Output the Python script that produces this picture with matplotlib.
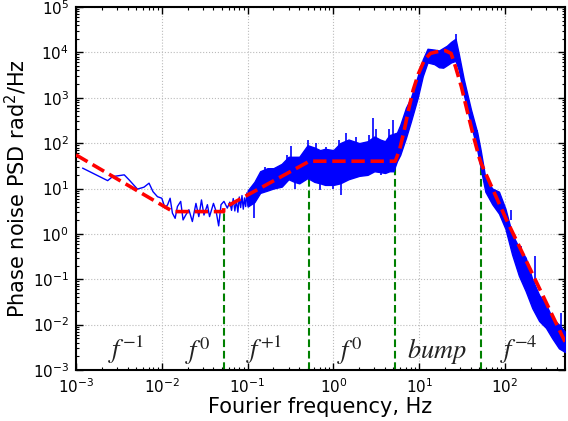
import numpy as np
import matplotlib
matplotlib.use("Agg")
import matplotlib.pyplot as plt
from matplotlib.ticker import LogLocator, NullFormatter

plt.rcParams['font.family'] = ['DejaVu Sans']
plt.rcParams['axes.unicode_minus'] = False

# --- low-frequency part of the measured PSD (thin line) ---
f_low = [1.2e-3, 2.34e-3, 2.67e-3, 3.0e-3, 3.65e-3, 4.17e-3, 5.2e-3, 6.2e-3, 7.1e-3,
         7.9e-3, 8.9e-3, 1.0e-2, 1.09e-2, 1.17e-2, 1.25e-2, 1.33e-2, 1.43e-2, 1.52e-2,
         1.66e-2, 1.77e-2, 1.9e-2, 2.07e-2, 2.27e-2, 2.5e-2, 2.7e-2, 2.9e-2, 3.1e-2,
         3.4e-2, 3.6e-2, 4.0e-2, 4.3e-2, 4.6e-2, 4.9e-2, 5.3e-2, 5.8e-2, 6.2e-2,
         0.065, 0.068, 0.071, 0.074, 0.077, 0.080, 0.083, 0.086, 0.089, 0.092, 0.095,
         0.098, 0.101, 0.104]
psd_low = [28, 14.9, 18.3, 18.9, 20, 15.4, 9.7, 10.7, 13.1,
           8.5, 6.6, 6.1, 3.7, 4.4, 6.1, 2.86, 2.2, 4.0,
           5.2, 2.03, 2.6, 3.4, 1.87, 4.7, 2.4, 5.6, 2.6,
           4.4, 2.4, 4.7, 3.1, 1.5, 4.4, 5.2, 3.7, 5.0,
           3.3, 6.0, 3.2, 5.5, 3.0, 6.5, 3.8, 7.0, 3.5, 6.2, 4.0,
           8.0, 4.2, 9.0]

# --- dense part of the measured PSD: solid core (lower / upper edge) ---
f_band = [0.1, 0.12, 0.14, 0.17, 0.2, 0.25, 0.3, 0.35, 0.4, 0.5, 0.6, 0.7, 0.8, 1.0,
          1.2, 1.5, 2.0, 2.5, 3.0, 3.5, 4.0, 4.5, 5.0, 5.5, 6, 7, 8, 9.6, 11, 12.5, 15,
          17, 19, 21, 23.5, 26.5, 29, 33, 40, 47.5, 52, 59, 71, 85, 101, 121, 145, 174,
          208, 250, 300, 355, 425, 500]
core_lo = [4.0, 5, 8, 9, 10, 11, 16, 14, 13, 17, 14, 13, 12, 12,
           13, 16, 19, 20, 24, 23, 22, 24, 24, 40, 55, 130, 300, 1000, 3000, 6000, 5500,
           4700, 4600, 5200, 6000, 6500, 4000, 1200, 260, 70, 28, 8.5, 4.5, 2.8, 1.3, 0.35,
           0.12, 0.055, 0.023, 0.012, 0.0085, 0.005, 0.003, 0.0025]
core_hi = [9, 14, 24, 28, 28, 35, 50, 50, 50, 90, 80, 70, 75, 70,
           100, 120, 100, 110, 140, 120, 110, 150, 160, 170, 250, 600, 1000, 3000, 7000,
           12000, 11500, 11000, 12500, 14000, 17000, 20000, 9000, 2600, 560, 170, 70, 17,
           10, 8.5, 3.6, 1.0, 0.5, 0.3, 0.1, 0.045, 0.028, 0.014, 0.010, 0.007]

# --- isolated spikes of the measured PSD (frequency, from, to) ---
spike_f = [0.12, 0.16, 0.29, 0.32, 0.36, 0.5, 0.63, 0.69, 0.82, 1.0, 1.17, 1.23, 1.4,
           1.84, 2.6, 2.87, 3.1, 3.6, 4.5, 4.9, 26.7, 47, 117, 153, 224, 446]
spike_from = [5, 10, 30, 30, 20, 40, 40, 20, 40, 20, 40, 20, 50,
              50, 60, 60, 60, 30, 60, 70, 15000, 100, 2.0, 0.3, 0.08, 0.009]
spike_to = [2.2, 30, 55, 87, 10, 117, 99, 9.3, 83, 10, 117, 7.2, 165,
            139, 150, 354, 200, 20, 200, 324, 26000, 195, 3.4, 0.53, 0.32, 0.018]

# --- piecewise power-law fit (red dashed) ---
f_fit = [1e-3, 0.0135, 0.0526, 0.0526, 0.526, 5.26, 5.9, 6.7, 7.5, 8.5, 9.8, 11.5,
         13.5, 16, 20, 23.5, 26.5, 31, 36, 43, 50, 52.6, 101, 500]
psd_fit = [55, 3.1, 3.1, 3.7, 40, 40, 71, 195, 540, 1480, 3400, 6800,
           9500, 10300, 11000, 9500, 4800, 1750, 540, 139, 48, 36, 2.3, 0.0042]

# --- region boundaries (green dashed) ---
f_bound = [0.0526, 0.526, 5.26, 52.6]
psd_bound = [3.1, 38, 34, 36]

# --- region labels ---
label_text = [r'$f^{-1}$', r'$f^{0}$', r'$f^{+1}$', r'$f^{0}$', r'$bump$', r'$f^{-4}$']
label_f = [3.8e-3, 0.026, 0.154, 1.53, 16.2, 145]

fig = plt.figure(figsize=(5.68, 4.21), dpi=100)
ax = fig.add_axes([76/568, 51/421, (565-76)/568, (370-7)/421])

blue = '#0000ff'
ax.plot(f_low, psd_low, color=blue, lw=1.0, zorder=3)
ax.fill_between(f_band, core_lo, core_hi, color=blue, lw=1.0, edgecolor=blue, zorder=3)
ax.vlines(spike_f, spike_from, spike_to, color=blue, lw=1.2, zorder=3)
ax.plot(f_fit, psd_fit, color='#ff0000', lw=2.6, ls=(0, (3.7, 1.6)), zorder=4)
for fb, pb in zip(f_bound, psd_bound):
    ax.plot([fb, fb], [1e-3, pb], color='#008000', lw=1.5, ls=(0, (3.7, 1.8)), zorder=2)
for t, fx in zip(label_text, label_f):
    ax.text(fx, 1.8e-3, t, ha='center', va='baseline', fontsize=19,
            math_fontfamily='stix', color='#222222')

ax.set_xscale('log')
ax.set_yscale('log')
ax.set_xlim(1e-3, 500)
ax.set_ylim(1e-3, 1e5)
ax.xaxis.set_major_locator(LogLocator(base=10, numticks=20))
ax.yaxis.set_major_locator(LogLocator(base=10, numticks=20))
ax.xaxis.set_minor_locator(LogLocator(base=10, subs=np.arange(2, 10), numticks=20))
ax.yaxis.set_minor_locator(LogLocator(base=10, subs=np.arange(2, 10), numticks=20))
ax.xaxis.set_minor_formatter(NullFormatter())
ax.yaxis.set_minor_formatter(NullFormatter())
ax.tick_params(which='both', direction='in', top=True, right=True, labelsize=11)
ax.tick_params(which='major', length=5, width=1, pad=5)
ax.tick_params(which='minor', length=2.5, width=0.8)
ax.grid(True, which='major', ls=':', color='#bbbbbb', lw=0.8)
for s in ax.spines.values():
    s.set_linewidth(1.5)
ax.set_xlabel('Fourier frequency, Hz', fontsize=15, labelpad=1)
ax.set_ylabel(r'Phase noise PSD rad$^2$/Hz', fontsize=15, labelpad=3)

fig.savefig('out.png', dpi=100)
